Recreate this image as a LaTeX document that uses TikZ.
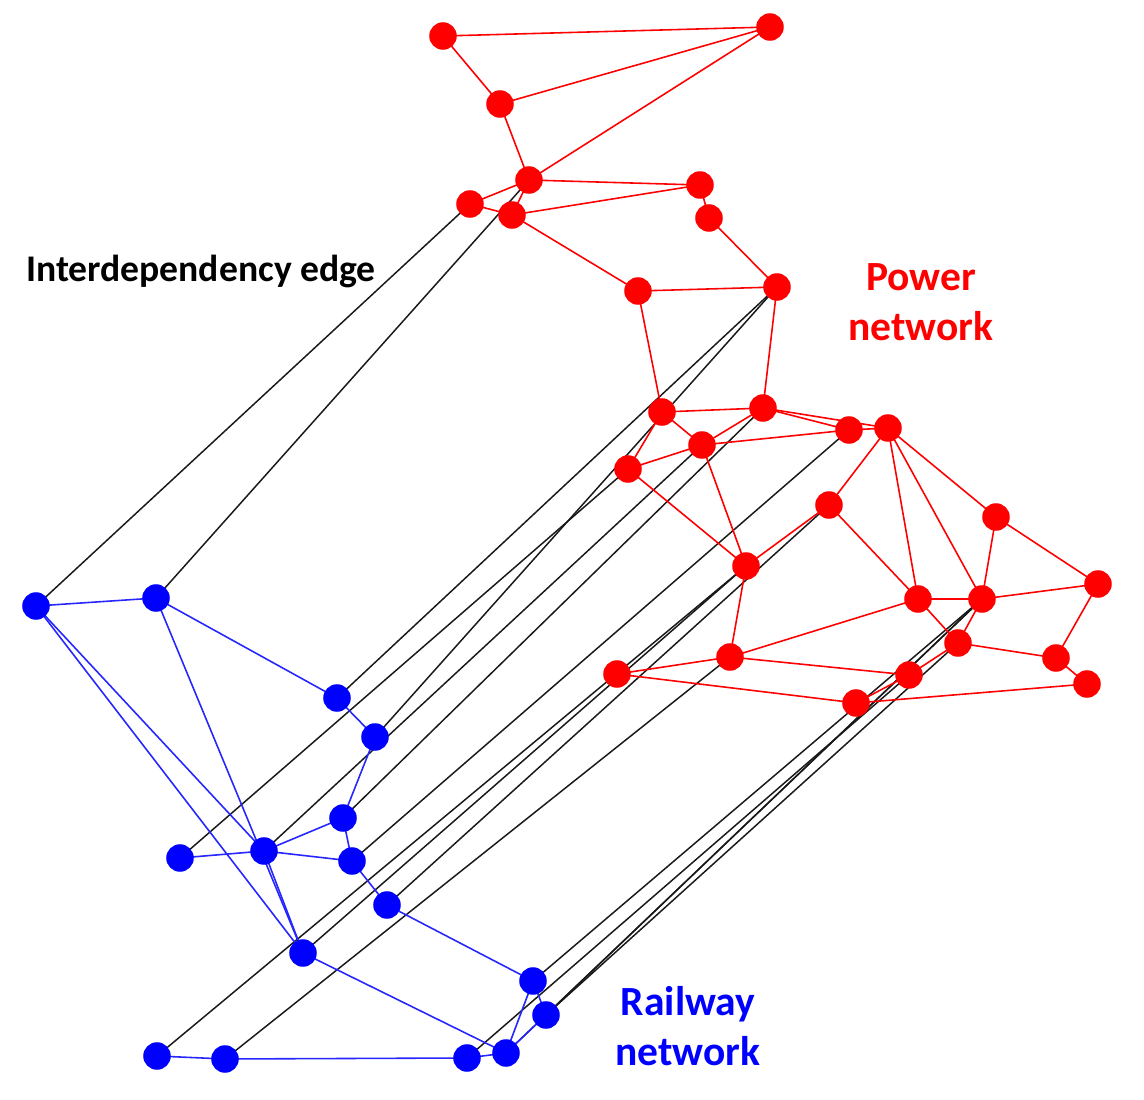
\documentclass[tikz,border=0pt]{standalone}
\usepackage{fontspec}
\setmainfont{Carlito}
\usepackage{xcolor}
\usepackage{tikz}
\tikzset{
  pnode/.style={circle,fill=red,inner sep=0pt,minimum size=2.75mm},
  rnode/.style={circle,fill=blue,inner sep=0pt,minimum size=2.75mm},
  pedge/.style={red,line width=0.45pt},
  redge/.style={blue!85!white,line width=0.45pt},
  dep/.style={black!90,line width=0.42pt},
  lab/.style={font=\bfseries\fontsize{11.8}{14.2}\selectfont,align=center,inner sep=0pt}
}

\begin{document}
\begin{tikzpicture}[x=0.01cm,y=-0.01cm]
\useasboundingbox (0,0) rectangle (1144,1100);
% power network
\foreach \n/\x/\y in {1/443/36,2/770/27,3/500/104,4/529/180,5/470/204,6/512/215,
  7/700/185,8/709/218,9/638/291,10/777/287,11/662/412,12/763/408,13/702/445,
  14/628/469,15/849/430,16/888/428,17/829/505,18/996/517,19/746/566,20/1098/584,
  21/918/599,22/982/599,23/958/643,24/617/674,25/730/657,26/1056/658,27/909/675,
  28/856/703,29/1087/684}
  \coordinate (p\n) at (\x,\y);
% railway network
\foreach \n/\x/\y in {1/36/606,2/156/598,3/337/698,4/375/737,5/343/818,6/180/858,
  7/264/851,8/352/861,9/387/905,10/303/953,11/533/981,12/546/1015,13/157/1056,
  14/225/1059,15/467/1058,16/506/1053}
  \coordinate (r\n) at (\x,\y);
% interdependency edges
\foreach \a/\b in {1/5,2/4,3/10,4/10,5/12,6/14,7/13,8/15,9/17,10/19,13/19,14/25,
  11/22,15/27,16/22,12/22,12/23}
  \draw[dep] (r\a) -- (p\b);
\foreach \a/\b in {1/2,1/3,3/2,3/4,4/2,4/5,4/6,4/7,5/6,6/7,7/8,6/9,8/10,9/10,9/11,
  10/12,11/12,11/13,11/14,12/13,13/14,13/15,12/15,12/16,15/16,14/19,13/19,16/17,
  16/21,16/22,16/18,17/19,17/21,18/22,18/20,21/22,22/20,21/23,22/23,23/26,20/26,
  26/29,19/25,25/21,25/24,25/27,24/28,28/29,23/27,27/28}
  \draw[pedge] (p\a) -- (p\b);
\foreach \a/\b in {1/2,1/7,1/10,2/3,2/10,3/4,4/5,5/7,5/8,6/7,7/8,7/10,8/9,9/11,
  10/16,11/16,11/12,12/16,15/16,13/14,14/15}
  \draw[redge] (r\a) -- (r\b);
\foreach \n in {1,...,29} \node[pnode] at (p\n) {};
\foreach \n in {1,...,16} \node[rnode] at (r\n) {};
% labels
\node[lab,font=\bfseries\fontsize{10.7}{13}\selectfont] (dlab) at (201,271) {Interdependency edge};
\node[lab,text=red] (plab) at (921,302) {Power\\network};
\node[lab,text=blue] (rlab) at (688,1026) {Railway\\network};
\end{tikzpicture}
\end{document}
